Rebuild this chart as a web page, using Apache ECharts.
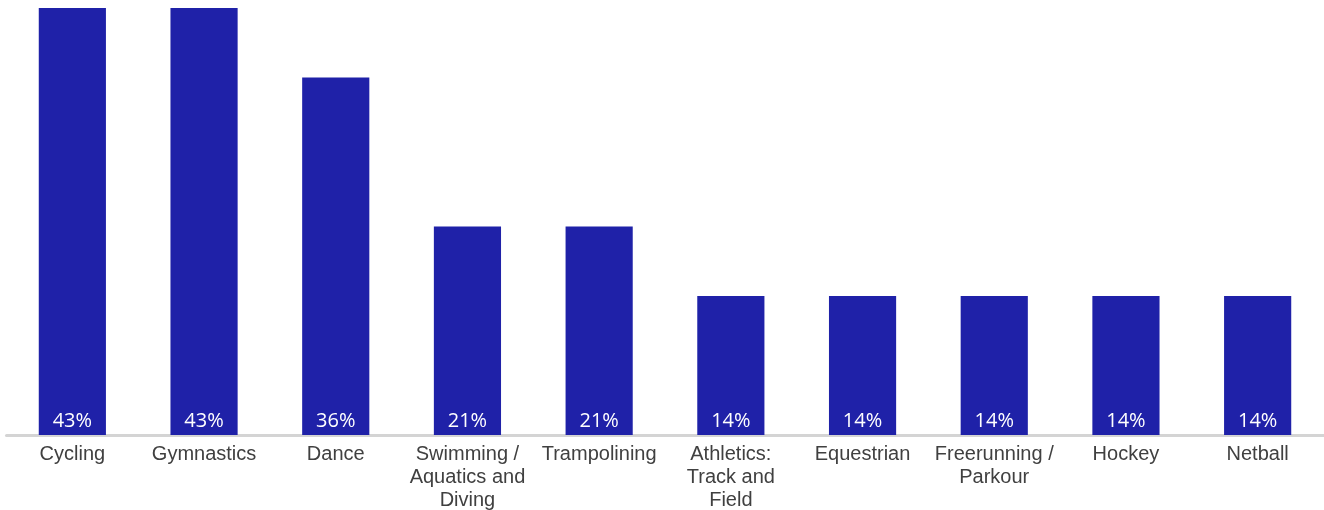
<!DOCTYPE html>
<html>
<head>
<meta charset="utf-8">
<script src="https://cdn.jsdelivr.net/npm/echarts@6/dist/echarts.min.js"></script>
<style>html,body{margin:0;padding:0;background:#fff;}#c{width:1324px;height:510px;}</style>
</head>
<body>
<div id="c"></div>
<script>
const categories = ['Cycling', 'Gymnastics', 'Dance', 'Swimming /\nAquatics and\nDiving', 'Trampolining', 'Athletics:\nTrack and\nField', 'Equestrian', 'Freerunning /\nParkour', 'Hockey', 'Netball'];
const values = [43, 43, 36, 21, 21, 14, 14, 14, 14, 14];

const chart = echarts.init(document.getElementById('c'), null, {renderer: 'canvas'});
chart.setOption({
  animation: false,
  backgroundColor: '#ffffff',
  grid: {left: 6.5, right: 0.5, top: 8, bottom: 75, containLabel: false, outerBoundsMode: 'none'},
  xAxis: {
    type: 'category',
    data: categories,
    axisLine: {show: true, lineStyle: {color: '#D4D4D4', width: 3}},
    axisTick: {show: false},
    axisLabel: {
      interval: 0,
      color: '#404040',
      fontFamily: 'Liberation Sans',
      fontSize: 20,
      lineHeight: 23,
      margin: 8
    }
  },
  yAxis: {
    type: 'value',
    min: 0,
    max: 43,
    show: false,
    splitLine: {show: false}
  },
  series: [{
    type: 'bar',
    data: values,
    barWidth: '51%',
    itemStyle: {color: '#1F21A8'},
    label: {
      show: true,
      position: 'insideBottom',
      distance: 4,
      color: '#ffffff',
      fontFamily: 'Open Sans',
      fontSize: 20,
      formatter: p => p.value + '%'
    }
  }]
});
</script>
</body>
</html>
